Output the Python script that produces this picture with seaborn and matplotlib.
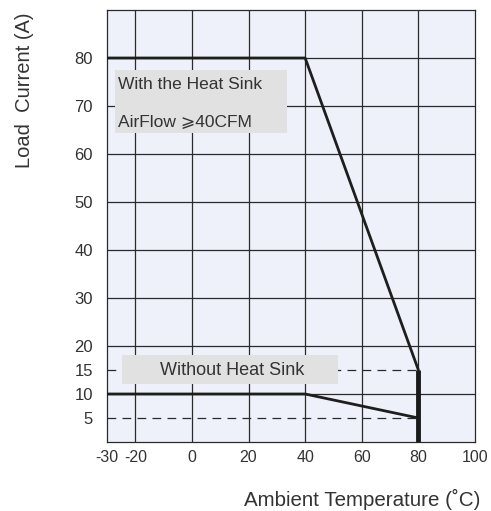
import pandas as pd
import matplotlib
matplotlib.use("Agg")
import matplotlib.pyplot as plt
from matplotlib.patches import Rectangle
import seaborn as sns

# Derating curves (ambient temperature in C, load current in A)
temp_sink = [-30, 40, 80]
amps_sink = [80, 80, 15]
temp_nosink = [-30, 40, 80]
amps_nosink = [10, 10, 5]

# cut-off at 80 C and reference levels
cutoff_temp = 80
dash_levels = [15, 5]

xticks = [-30, -20, 0, 20, 40, 60, 80, 100]
yticks = [5, 10, 15, 20, 30, 40, 50, 60, 70, 80]
grid_x = [-20, 0, 20, 40, 60, 80]
grid_y = [10, 20, 30, 40, 50, 60, 70, 80]

sns.set_style("white")
plt.rcParams["font.family"] = ["Liberation Sans", "DejaVu Sans"]
plt.rcParams["axes.unicode_minus"] = False

df = pd.concat([
    pd.DataFrame({"temp": temp_sink, "amps": amps_sink, "curve": "sink"}),
    pd.DataFrame({"temp": temp_nosink, "amps": amps_nosink, "curve": "nosink"}),
])

fig = plt.figure(figsize=(4.91, 5.11), dpi=100)
ax = fig.add_axes([107 / 491, 1 - 442 / 511, 368 / 491, 432 / 511])
ax.set_facecolor("#eef1f9")

for gx in grid_x:
    ax.axvline(gx, color="#2a2a2a", lw=0.9, zorder=1)
for gy in grid_y:
    ax.axhline(gy, color="#2a2a2a", lw=0.9, zorder=1)

# dashed reference lines
for lvl in dash_levels:
    ax.plot([-30, cutoff_temp], [lvl, lvl], color="#2a2a2a", lw=0.9,
            dashes=(7, 5), zorder=2)

sns.lineplot(data=df, x="temp", y="amps", units="curve", estimator=None,
             color="#1e1e1e", lw=2.0, sort=False, ax=ax, zorder=4)

# thick cut-off line at 80 C
ax.plot([cutoff_temp, cutoff_temp], [0, amps_sink[-1]], color="#1a1a1a",
        lw=3.5, solid_capstyle="butt", zorder=5)

ax.set_xlim(-30, 100)
ax.set_ylim(0, 90)
ax.set_xticks(xticks)
ax.set_yticks(yticks)
ax.tick_params(length=0, labelsize=12, labelcolor="#333333")
ax.tick_params(axis="y", pad=10)
ax.tick_params(axis="x", pad=6, labelsize=11.5)
for s in ax.spines.values():
    s.set_color("#2a2a2a")
    s.set_linewidth(0.9)
ax.set_xlabel("")
ax.set_ylabel("")

# label boxes
ax.add_patch(Rectangle((-27.2, 64.4), 60.8, 13.1, fc="#e1e1e1", ec="none", zorder=3))
ax.text(-26.0, 74.4, "With the Heat Sink", fontsize=12.5, color="#333333",
        va="center", ha="left", zorder=6)
ax.text(-26.0, 66.5, "AirFlow \u2a7e40CFM", fontsize=12.5, color="#333333",
        va="center", ha="left", zorder=6)

ax.add_patch(Rectangle((-24.7, 12.1), 76.3, 6.0, fc="#e1e1e1", ec="none", zorder=3))
ax.text(14.2, 14.8, "Without Heat Sink", fontsize=13, color="#333333",
        va="center", ha="center", zorder=6)

fig.text(25 / 491, 1 - 90 / 511, "Load  Current (A)", rotation=90,
         fontsize=14.5, color="#333333", ha="center", va="center")
fig.text(480 / 491, 1 - 499 / 511, "Ambient Temperature (\u02daC)",
         fontsize=14.8, color="#333333", ha="right", va="center")

fig.savefig("out.png", dpi=100)
